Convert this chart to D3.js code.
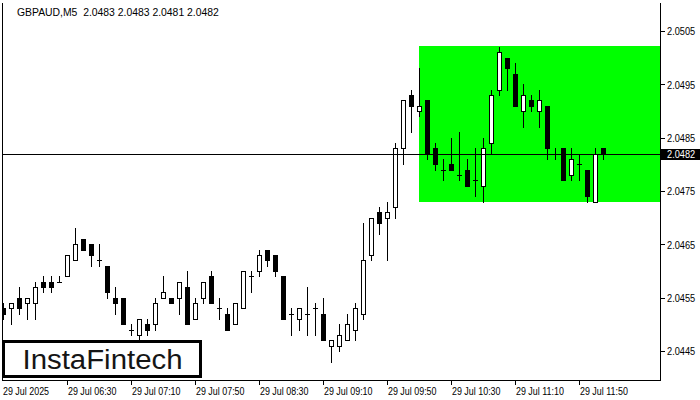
<!DOCTYPE html>
<html><head><meta charset="utf-8">
<script src="https://cdn.jsdelivr.net/npm/d3@7"></script>
<style>
html,body{margin:0;padding:0;background:#fff;}
svg{display:block;}
text{font-family:'Liberation Sans',Arial,sans-serif;}
</style></head>
<body>
<svg id="chart" width="700" height="400"></svg>
<script>
// ---- data ----
const title = "GBPAUD,M5  2.0483 2.0483 2.0481 2.0482";
const openP  = [2.0453,2.0453,2.0455,2.0454,2.0454,2.0458,2.0458,2.0458,2.0459,2.0462,
                2.0466,2.0465,2.0462,2.0461,2.0455,2.0455,2.0449,2.0448,2.0450,2.0450,
                2.0455,2.0455,2.0455,2.0457,2.0451,2.0455,2.0459,2.0453,2.0452,2.0450,
                2.0453,2.0459,2.0460,2.0464,2.0463,2.0459,2.0452,2.0451,2.0452,2.0453,
                2.0452,2.0446,2.0446,2.0447,2.0449,2.0452,2.0463,2.0471,2.0470,2.0472,
                2.0483,2.0493,2.0490,2.0492,2.0483,2.0479,2.0480,2.0478,2.0479,2.0477,
                2.0476,2.0484,2.0494,2.0500,2.0497,2.0490,2.0492,2.0490,2.0491,2.0482,
                2.0483,2.0478,2.0480,2.0479,2.0473,2.0483];
const highP  = [2.0454,2.0454,2.0457,2.0455,2.0458,2.0459,2.0459,2.0459,2.0463,2.0468,
                2.0466,2.0465,2.0465,2.0461,2.0457,2.0455,2.0450,2.0451,2.0451,2.0455,
                2.0459,2.0455,2.0458,2.0460,2.0455,2.0458,2.0460,2.0455,2.0453,2.0454,
                2.0460,2.0460,2.0464,2.0464,2.0463,2.0459,2.0453,2.0453,2.0457,2.0454,
                2.0455,2.0447,2.0450,2.0452,2.0454,2.0469,2.0470,2.0472,2.0473,2.0484,
                2.0492,2.0494,2.0498,2.0492,2.0484,2.0481,2.0485,2.0486,2.0481,2.0483,
                2.0485,2.0494,2.0502,2.0500,2.0499,2.0495,2.0493,2.0494,2.0491,2.0483,
                2.0483,2.0483,2.0482,2.0479,2.0483,2.0483];
const lowP   = [2.0451,2.0450,2.0452,2.0451,2.0451,2.0456,2.0456,2.0458,2.0459,2.0462,
                2.0464,2.0461,2.0461,2.0455,2.0452,2.0450,2.0448,2.0446,2.0448,2.0449,
                2.0455,2.0454,2.0452,2.0450,2.0451,2.0454,2.0454,2.0451,2.0449,2.0450,
                2.0453,2.0456,2.0459,2.0461,2.0459,2.0451,2.0448,2.0449,2.0448,2.0448,
                2.0447,2.0443,2.0445,2.0447,2.0447,2.0451,2.0462,2.0467,2.0462,2.0470,
                2.0480,2.0486,2.0489,2.0481,2.0479,2.0477,2.0479,2.0477,2.0476,2.0474,
                2.0473,2.0482,2.0493,2.0494,2.0491,2.0487,2.0490,2.0487,2.0481,2.0481,
                2.0477,2.0477,2.0477,2.0473,2.0473,2.0481];
const closeP = [2.0452,2.0454,2.0453,2.0455,2.0457,2.0457,2.0457,2.0458,2.0463,2.0465,
                2.0464,2.0463,2.0462,2.0456,2.0454,2.0450,2.0449,2.0451,2.0449,2.0454,
                2.0456,2.0454,2.0458,2.0450,2.0454,2.0458,2.0454,2.0453,2.0449,2.0454,
                2.0460,2.0459,2.0463,2.0462,2.0460,2.0451,2.0452,2.0453,2.0452,2.0453,
                2.0447,2.0447,2.0448,2.0450,2.0453,2.0462,2.0470,2.0469,2.0471,2.0483,
                2.0492,2.0491,2.0491,2.0482,2.0480,2.0479,2.0479,2.0478,2.0476,2.0477,
                2.0483,2.0493,2.0501,2.0498,2.0491,2.0493,2.0491,2.0492,2.0483,2.0482,
                2.0477,2.0481,2.0480,2.0474,2.0482,2.0482];
const xTickBars   = [0, 8, 16, 24, 32, 40, 48, 56, 64, 72];
const xTickLabels = ["29 Jul 2025","29 Jul 06:30","29 Jul 07:10","29 Jul 07:50","29 Jul 08:30",
                     "29 Jul 09:10","29 Jul 09:50","29 Jul 10:30","29 Jul 11:10","29 Jul 11:50"];
const yTickValues = [2.0445, 2.0455, 2.0465, 2.0475, 2.0485, 2.0495, 2.0505];
const lastPrice = 2.0482;
const boxStartBar = 52;
const boxTop = 2.05022;
const boxBottom = 2.0473;
const logoText = "InstaFintech";

// ---- layout ----
const svg = d3.select("#chart");
const plotL = 2, plotR = 660, plotT = 3, plotB = 380;
const n = openP.length;
const x = d3.scaleLinear().domain([0, n - 1]).range([3.3, 3.3 + 8 * (n - 1)]);
const y = d3.scaleLinear().domain([2.0445, 2.0505]).range([351, 31]);
const r = v => Math.round(v);

// helper: narrow (Tahoma-like) text via horizontal scaling
function narrowText(parent, tx, ty, str, sx, fill) {
  const gg = parent.append("g").attr("transform", `translate(${tx},${ty}) scale(${sx},1)`);
  return gg.append("text").attr("x", 0).attr("y", 0).attr("dy", "0.35em")
    .attr("font-size", 11).attr("fill", fill || "#000")
    .attr("xml:space", "preserve").style("white-space", "pre").text(str);
}

svg.append("defs").append("clipPath").attr("id","plotclip")
  .append("rect").attr("x", plotL + 1).attr("y", plotT).attr("width", plotR - plotL - 1).attr("height", plotB - plotT);

// green box
svg.append("rect")
  .attr("x", r(x(boxStartBar))).attr("y", r(y(boxTop)))
  .attr("width", plotR - r(x(boxStartBar))).attr("height", r(y(boxBottom)) - r(y(boxTop)))
  .attr("fill", "#00ff00");

// candles
const g = svg.append("g").attr("clip-path", "url(#plotclip)").attr("shape-rendering", "crispEdges");
const bars = d3.range(n).map(i => ({i, o: openP[i], h: highP[i], l: lowP[i], c: closeP[i]}));
const cg = g.selectAll("g.c").data(bars).join("g").attr("class", "c");
cg.append("line")
  .attr("x1", d => r(x(d.i)) + 0.5).attr("x2", d => r(x(d.i)) + 0.5)
  .attr("y1", d => r(y(d.h))).attr("y2", d => r(y(d.l)) + 1)
  .attr("stroke", "#000").attr("stroke-width", 1);
cg.filter(d => d.o !== d.c).append("rect")
  .attr("x", d => r(x(d.i)) - 2 + 0.5)
  .attr("y", d => r(y(Math.max(d.o, d.c))) + 0.5)
  .attr("width", 4)
  .attr("height", d => Math.max(1, r(y(Math.min(d.o, d.c))) - r(y(Math.max(d.o, d.c)))))
  .attr("fill", d => d.c > d.o ? "#fff" : "#000")
  .attr("stroke", "#000").attr("stroke-width", 1);
cg.filter(d => d.o === d.c).append("line")
  .attr("x1", d => r(x(d.i)) - 2).attr("x2", d => r(x(d.i)) + 3)
  .attr("y1", d => r(y(d.o)) + 0.5).attr("y2", d => r(y(d.o)) + 0.5)
  .attr("stroke", "#000").attr("stroke-width", 1);

// last price line
svg.append("line").attr("shape-rendering", "crispEdges")
  .attr("x1", plotL).attr("x2", plotR).attr("y1", r(y(lastPrice)) + 0.5).attr("y2", r(y(lastPrice)) + 0.5)
  .attr("stroke", "#000").attr("stroke-width", 1);

// frame
const fr = svg.append("g").attr("shape-rendering", "crispEdges").attr("stroke", "#000").attr("stroke-width", 1);
fr.append("line").attr("x1", plotL + 0.5).attr("x2", plotL + 0.5).attr("y1", plotT).attr("y2", plotB);
fr.append("line").attr("x1", plotR + 0.5).attr("x2", plotR + 0.5).attr("y1", plotT).attr("y2", plotB);
fr.append("line").attr("x1", plotL).attr("x2", plotR + 1).attr("y1", plotB + 0.5).attr("y2", plotB + 0.5);

// y axis (ticks via d3 axis, labels narrowed)
const yAxis = d3.axisRight(y).tickValues(yTickValues).tickFormat("").tickSize(4);
const ya = svg.append("g").attr("transform", `translate(${plotR + 0.5},0)`).call(yAxis);
ya.select(".domain").remove();
ya.selectAll(".tick line").attr("shape-rendering", "crispEdges");
const yl = svg.append("g");
yTickValues.forEach(v => narrowText(yl, 667, y(v) + 0.5, d3.format(".4f")(v), 0.84));

// price label box
const pl = svg.append("g");
pl.append("rect").attr("x", plotR + 1).attr("y", r(y(lastPrice)) - 5).attr("width", 700 - plotR - 1).attr("height", 11).attr("fill", "#000");
narrowText(pl, 667, r(y(lastPrice)) + 0.5, d3.format(".4f")(lastPrice), 0.84, "#fff");

// x axis
const xa = svg.append("g").attr("shape-rendering", "crispEdges");
xa.selectAll("line.t").data(xTickBars.slice(1)).join("line").attr("class", "t")
  .attr("x1", d => r(x(d)) + 0.5).attr("x2", d => r(x(d)) + 0.5)
  .attr("y1", plotB).attr("y2", plotB + 5).attr("stroke", "#000");
xTickBars.forEach((b, i) => narrowText(xa, i === 0 ? 3 : r(x(b)) + 1, 391, xTickLabels[i], 0.81));

// title
narrowText(svg, 17, 12.5, title, 0.945);

// logo
const lg = svg.append("g");
lg.append("rect").attr("x", 3.5).attr("y", 341.5).attr("width", 197).attr("height", 35)
  .attr("fill", "#fff").attr("stroke", "#000").attr("stroke-width", 3);
lg.append("text").attr("x", 22.5).attr("y", 369.3)
  .attr("font-family", "Lato, 'Open Sans', sans-serif").attr("font-size", 27).attr("font-weight", 500)
  .attr("fill", "#151515").attr("textLength", 160).attr("lengthAdjust", "spacingAndGlyphs").text(logoText);
</script>
</body></html>
